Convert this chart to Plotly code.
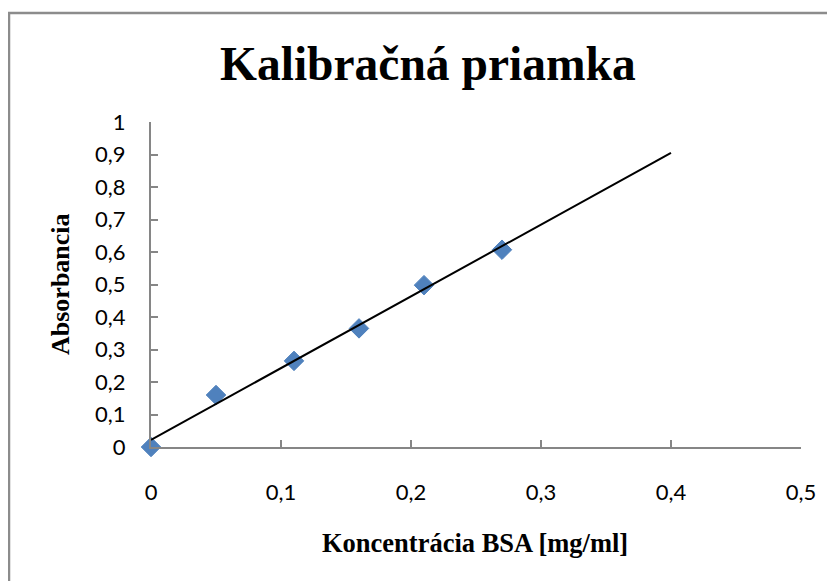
import plotly.graph_objects as go

# Data
conc = [0, 0.05, 0.11, 0.16, 0.21, 0.27]
absorb = [0, 0.16, 0.265, 0.365, 0.498, 0.607]
trend_x = [0, 0.4]
trend_y = [0.022, 0.905]
x_ticks = [0, 0.1, 0.2, 0.3, 0.4, 0.5]
x_ticklabels = ["0", "0,1", "0,2", "0,3", "0,4", "0,5"]
y_ticks = [0, 0.1, 0.2, 0.3, 0.4, 0.5, 0.6, 0.7, 0.8, 0.9, 1]
y_ticklabels = ["0", "0,1", "0,2", "0,3", "0,4", "0,5", "0,6", "0,7", "0,8", "0,9", "1"]

OFF = 8  # page body margin
W, H = 835 - OFF, 581 - OFF
L, R, T, B = 151 - OFF, 34, 122 - OFF, 134
PW, PH = W - L - R, H - T - B

def px(xp):
    return (xp - OFF - L) / PW

def py(yp):
    return (H - B - (yp - OFF)) / PH

fig = go.Figure()
fig.add_trace(go.Scatter(
    x=conc, y=absorb, mode="markers",
    marker=dict(symbol="diamond", size=15, color="#4F81BD",
                line=dict(color="#4F81BD", width=1)),
    showlegend=False, cliponaxis=False,
))
fig.add_trace(go.Scatter(
    x=trend_x, y=trend_y, mode="lines",
    line=dict(color="black", width=2),
    showlegend=False,
))

axis_color = "#868686"
tick_font = dict(family="Lato, Liberation Sans, sans-serif", size=22, color="black")

fig.update_layout(
    width=W, height=H,
    margin=dict(l=L, r=R, t=T, b=B),
    paper_bgcolor="white", plot_bgcolor="white",
    xaxis=dict(
        range=[0, 0.5], tickvals=x_ticks, ticktext=x_ticklabels,
        showgrid=False, zeroline=False, showline=True, linecolor=axis_color, linewidth=2,
        ticks="inside", ticklen=7, tickcolor=axis_color, tickwidth=2,
        tickfont=tick_font, ticklabelstandoff=25,
    ),
    yaxis=dict(
        range=[0, 1], tickvals=y_ticks, ticktext=y_ticklabels,
        showgrid=False, zeroline=False, showline=True, linecolor=axis_color, linewidth=2,
        ticks="inside", ticklen=7, tickcolor=axis_color, tickwidth=2,
        tickfont=tick_font, ticklabelstandoff=19,
    ),
    annotations=[
        dict(text="<b>Kalibračná priamka</b>", xref="paper", yref="paper",
             x=px(428), y=py(64), xanchor="center", yanchor="middle", showarrow=False,
             font=dict(family="Liberation Serif, Times New Roman, serif", size=47.5, color="black")),
        dict(text="<b>Koncentrácia BSA [mg/ml]</b>", xref="paper", yref="paper",
             x=px(475), y=py(543), xanchor="center", yanchor="middle", showarrow=False,
             font=dict(family="Liberation Serif, Times New Roman, serif", size=26.5, color="black")),
        dict(text="<b>Absorbancia</b>", xref="paper", yref="paper", textangle=-90,
             x=px(60), y=py(284), xanchor="center", yanchor="middle", showarrow=False,
             font=dict(family="Liberation Serif, Times New Roman, serif", size=26, color="black")),
    ],
    shapes=[
        dict(type="line", xref="paper", yref="paper", x0=px(8), x1=px(840), y0=py(13), y1=py(13),
             line=dict(color="#8C8C8C", width=2.5)),
        dict(type="line", xref="paper", yref="paper", x0=px(9), x1=px(9), y0=py(12), y1=py(590),
             line=dict(color="#8C8C8C", width=2.5)),
    ],
)

fig.write_html("out.html")
